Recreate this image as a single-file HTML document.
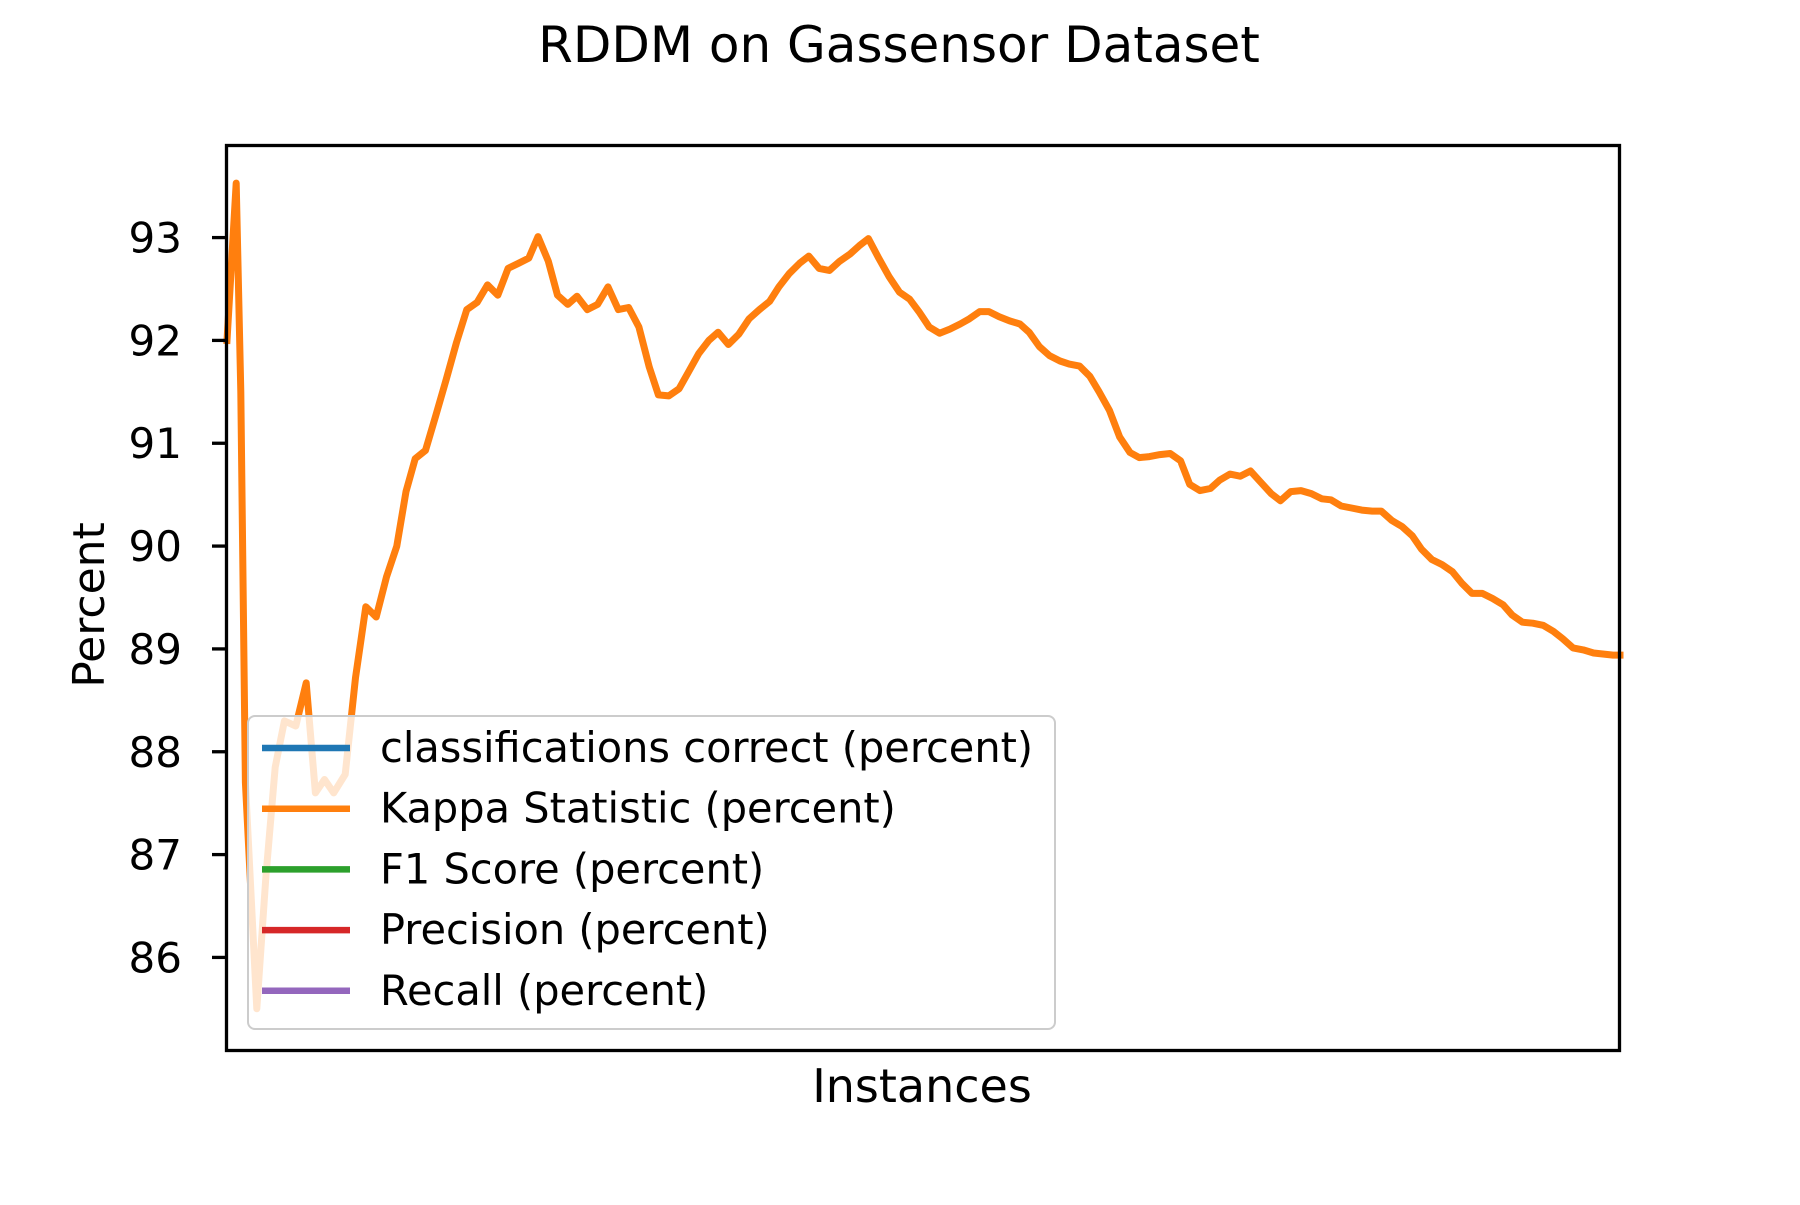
<!DOCTYPE html>
<html><head><meta charset="utf-8"><style>
html,body{margin:0;padding:0;background:#fff;}
svg text{font-family:"DejaVu Sans","Liberation Sans",sans-serif;fill:#000;}
</style></head><body>
<svg width="1800" height="1200" viewBox="0 0 1800 1200" xmlns="http://www.w3.org/2000/svg">
<rect x="0" y="0" width="1800" height="1200" fill="#fff"/>
<text x="899" y="62" font-size="50" text-anchor="middle">RDDM on Gassensor Dataset</text>
<g id="plot"></g>
<g id="yticks"></g>
<rect x="226.5" y="145.5" width="1393" height="905" fill="none" stroke="#000" stroke-width="3.3"/>
<text x="922" y="1102" font-size="46" text-anchor="middle">Instances</text>
<text x="0" y="0" font-size="44" text-anchor="middle" transform="translate(104,605) rotate(-90)">Percent</text>
<g id="legend"></g>
</svg>
<script>
const instances=[0,8,12,16,26,34,42,50,60,69,77,85,93,103,112,121,130,139,148,156,164,173,182,191,200,209,218,227,236,245,254,263,271,280,288,297,305,314,323,332,341,350,359,368,376,385,394,402,411,420,428,437,446,455,464,473,481,490,499,507,516,525,534,543,551,559,568,577,586,595,603,612,621,630,639,647,656,664,673,682,691,699,708,717,726,734,743,752,760,769,778,787,795,804,813,822,831,839,848,857,865,874,883,892,901,910,918,927,936,945,954,962,971,980,989,998,1006,1015,1024,1033,1041,1050,1059,1068,1076,1085,1094,1103,1112,1120,1129,1138,1147,1156,1164,1173,1182,1191,1200,1208,1214];
const kappa=[92.0,93.53,91.5,87.7,85.5,86.8,87.85,88.3,88.25,88.67,87.6,87.73,87.6,87.78,88.72,89.41,89.31,89.7,90.0,90.53,90.85,90.93,91.27,91.62,91.98,92.30,92.37,92.54,92.44,92.70,92.75,92.80,93.01,92.77,92.44,92.35,92.43,92.30,92.35,92.52,92.30,92.32,92.13,91.74,91.47,91.46,91.53,91.69,91.87,92.00,92.08,91.96,92.06,92.21,92.30,92.38,92.52,92.65,92.75,92.82,92.70,92.68,92.77,92.84,92.92,92.99,92.80,92.62,92.47,92.40,92.28,92.13,92.07,92.11,92.16,92.21,92.28,92.28,92.23,92.19,92.16,92.08,91.94,91.85,91.80,91.77,91.75,91.65,91.50,91.32,91.06,90.91,90.86,90.87,90.89,90.90,90.83,90.60,90.54,90.56,90.64,90.70,90.68,90.73,90.62,90.51,90.44,90.53,90.54,90.51,90.46,90.45,90.39,90.37,90.35,90.34,90.34,90.25,90.19,90.10,89.97,89.87,89.82,89.75,89.64,89.54,89.54,89.49,89.43,89.33,89.26,89.25,89.23,89.17,89.10,89.01,88.99,88.96,88.95,88.94,88.94];
const yTicks=[86,87,88,89,90,91,92,93];
const legendLabels=["classifications correct (percent)","Kappa Statistic (percent)","F1 Score (percent)","Precision (percent)","Recall (percent)"];
const legendColors=["#1f77b4","#ff7f0e","#2ca02c","#d62728","#9467bd"];
const NS="http://www.w3.org/2000/svg";
const L=227,R=1620,T=144,B=1051,YMIN=85.09,YMAX=93.91,XMAX=1214;
const sx=v=>L+(v/XMAX)*(R-L);
const sy=v=>B-(v-YMIN)/(YMAX-YMIN)*(B-T);
function mk(t,a){const e=document.createElementNS(NS,t);for(const k in a)e.setAttribute(k,a[k]);return e;}
const plot=document.getElementById('plot');
const pts=instances.map((x,i)=>sx(x).toFixed(1)+','+sy(kappa[i]).toFixed(1)).join(' ');
const line=mk('polyline',{points:pts,fill:'none',stroke:'#ff7f0e','stroke-width':7,'stroke-linejoin':'round','stroke-linecap':'square'});


plot.appendChild(line);
const yt=document.getElementById('yticks');
yTicks.forEach(v=>{
  const y=sy(v);
  const tk=mk('line',{x1:L-15,x2:L,y1:y,y2:y,stroke:'#000','stroke-width':3.3});
  
  
  yt.appendChild(tk);
  const tx=mk('text',{x:L-45,y:y+15,'font-size':42,'text-anchor':'end'});
  
  
  tx.textContent=v;yt.appendChild(tx);
});
const lg=document.getElementById('legend');
const box=mk('rect',{x:248,y:716,width:807,height:313,rx:7,fill:'#fff','fill-opacity':0.8,stroke:'#cccccc','stroke-width':2});


lg.appendChild(box);
legendLabels.forEach((lab,i)=>{
  const y=748+i*60.7;
  const ln=mk('line',{x1:262,x2:350,y1:y,y2:y,stroke:legendColors[i],'stroke-width':6.5});
  
  
  lg.appendChild(ln);
  const tx=mk('text',{x:380,y:y+14,'font-size':41.5});
  
  
  tx.textContent=lab;lg.appendChild(tx);
});
</script>
</body></html>
